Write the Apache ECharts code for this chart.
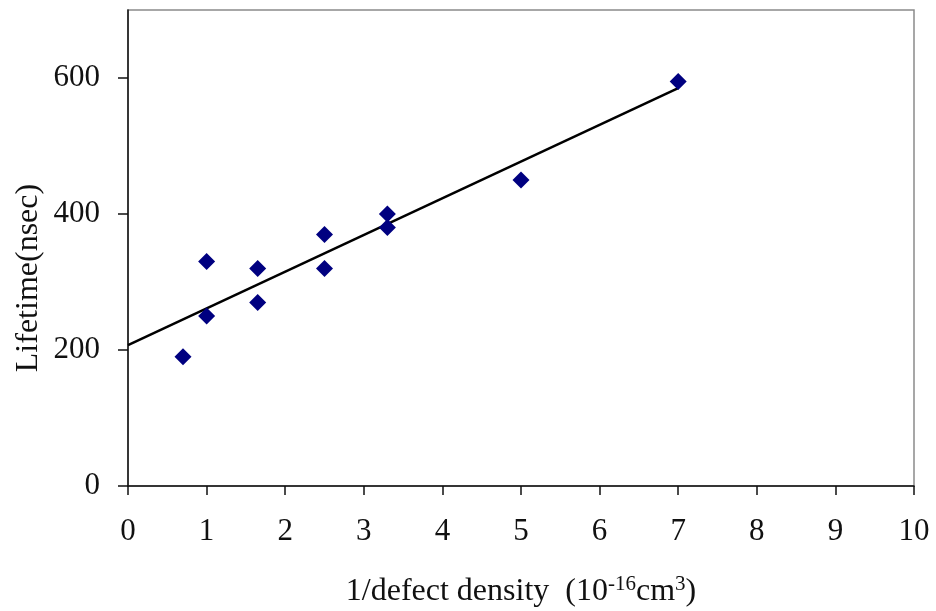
<!DOCTYPE html>
<html>
<head>
<meta charset="utf-8">
<script src="https://cdn.jsdelivr.net/npm/echarts@6/dist/echarts.min.js"></script>
<style>html,body{margin:0;padding:0;background:#fff;}#c{width:936px;height:611px;}</style>
</head>
<body>
<div id="c"></div>
<script>
const densityInv = [0.7, 1, 1, 1.65, 1.65, 2.5, 2.5, 3.3, 3.3, 5, 7];
const lifetime = [190, 330, 250, 320, 270, 370, 320, 400, 380, 450, 595];
const trendX = [0, 7];
const trendY = [207, 585];
const yTicks = [0, 200, 400, 600];

const font = 'Liberation Serif';
const chart = echarts.init(document.getElementById('c'));
chart.setOption({
  animation: false,
  backgroundColor: '#fff',
  grid: { left: 128, right: 22, top: 10, bottom: 125, show: true, borderColor: '#8a8a8a', borderWidth: 1.5, outerBoundsMode: 'none', containLabel: false },
  xAxis: {
    type: 'value', min: 0, max: 10, interval: 1,
    splitLine: { show: false },
    axisLine: { lineStyle: { color: '#111', width: 1.5 } },
    axisTick: { show: true, inside: false, length: 9, lineStyle: { color: '#111', width: 1.5 } },
    axisLabel: { margin: 30, fontFamily: font, fontSize: 31, color: '#111' },
    name: '1/defect density  (10{sup|-16}cm{sup|3})',
    nameLocation: 'middle', nameGap: 88, nameMoveOverlap: false,
    nameTextStyle: {
      fontFamily: font, fontSize: 32, color: '#111', lineHeight: 36,
      rich: { sup: { fontFamily: font, fontSize: 21, color: '#111', verticalAlign: 'top', lineHeight: 36 } }
    }
  },
  yAxis: {
    type: 'value', min: 0, max: 700,
    splitLine: { show: false },
    axisLine: { onZero: false, lineStyle: { color: '#111', width: 1.5 } },
    axisTick: { show: true, length: 10, customValues: yTicks, lineStyle: { color: '#111', width: 1.5 } },
    axisLabel: { margin: 28, fontFamily: font, fontSize: 31, color: '#111', customValues: yTicks },
    name: 'Lifetime(nsec)',
    nameLocation: 'middle', nameGap: 83, nameMoveOverlap: false,
    nameTextStyle: { fontFamily: font, fontSize: 32, color: '#111', padding: [0, 60, 0, 0] }
  },
  series: [
    {
      type: 'line', data: trendX.map((x, i) => [x, trendY[i]]),
      symbol: 'none', lineStyle: { color: '#000', width: 2.5 }, z: 2
    },
    {
      type: 'scatter', data: densityInv.map((x, i) => [x, lifetime[i]]),
      symbol: 'diamond', symbolSize: 17, itemStyle: { color: '#000080', opacity: 1 }, z: 3
    }
  ]
});
</script>
</body>
</html>
